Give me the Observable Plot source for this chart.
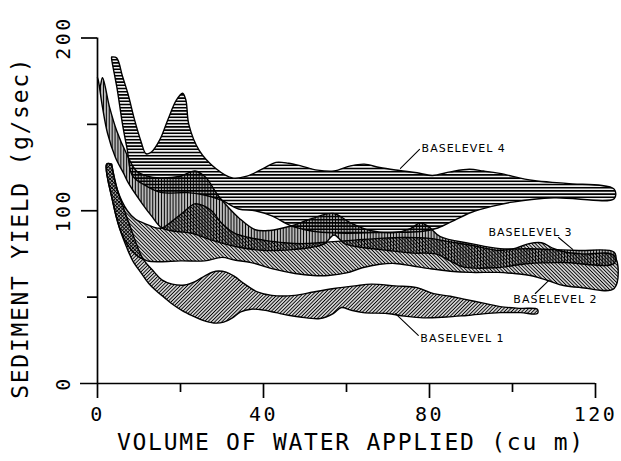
<!DOCTYPE html>
<html><head><meta charset="utf-8">
<script src="https://cdn.jsdelivr.net/npm/d3@7"></script>
<script src="https://cdn.jsdelivr.net/npm/@observablehq/plot@0.6"></script>
<style>html,body{margin:0;padding:0;background:#fff;} svg{display:block}</style>
</head><body><div id="chart"></div>
<script>
// ---- data (x = volume of water applied, cu m ; y = sediment yield, g/sec) ----
const xTitle = "VOLUME OF WATER APPLIED (cu m)";
const yTitle = "SEDIMENT YIELD (g/sec)";
const xTicksMajor = [0, 40, 80, 120];
const xTicksMinor = [20, 60, 100];
const yTicksMajor = [0, 100, 200];
const yTicksMinor = [50, 150];

const bl4Upper = [[3.4,189],[4.6,188.5],[6,178],[7.3,168],[9,152],[10.5,140],[11.7,133],[13,134],[15,141],[17,153],[19,164],[20.5,168],[21.3,164],[22,150],[24.5,135],[28.5,124.5],[32.5,119],[36,120],[40,124.5],[43,128],[46,127.5],[49,126],[53,123.5],[57,123],[61,126],[64.3,127],[68,125],[72.8,123.3],[77,122],[80.7,120.4],[85,122.5],[89.6,124],[93,123],[96.9,121.6],[105,117.5],[113,115.8],[124.5,112.5]];
const bl4Lower = [[3.4,188],[4.8,169.6],[6,150.5],[7.2,135],[8.4,120.4],[12,114],[15.5,110.5],[21.7,110.5],[26,109],[30,106],[34,101],[38,100],[42,97],[46.4,91.5],[50,89],[54,87.5],[60,87],[70,87.5],[78,88],[82,90],[86,94.5],[90,99],[95,102.5],[100,105],[110,107.5],[124.5,107]];

const bl3Upper = [[0,177],[0.6,172],[1.2,177],[2.9,160],[4.6,146.5],[7,133],[9.4,123],[12,120],[15,119],[20,120],[23.5,123],[26,119.5],[29,109],[31.5,102],[34,96],[38,89],[41.5,88.6],[46.4,91],[51.7,95.5],[56.8,98.4],[61,93],[65.7,88.6],[71.7,87.4],[75.4,89.7],[77.8,93],[79.7,91],[82.6,85],[90,81],[97,78],[104,78],[110,77.5],[116,77],[124.5,76]];
const bl3Lower = [[0,177],[0.2,175.4],[1.2,160],[2.4,145],[4.3,131],[6.3,121.6],[7.5,115.8],[10.8,104],[13,97],[15.5,90],[19,88],[22.7,87],[27.5,83],[33.8,79],[40.3,77],[47,77.5],[52,79],[54.8,81],[57,86],[59.5,81],[63,79],[70,77],[76,75.5],[81.4,75],[85,71],[88,67.5],[96,67],[104,69.5],[112,70],[124.5,69.5]];

const bl2Upper = [[3.4,127],[4.8,112],[7.2,100],[9.2,95],[11.4,92.6],[13.5,90.5],[15.5,90],[18,94],[20.3,98.4],[23.4,104],[25.5,103],[27.5,100],[30,92.6],[33,87],[36.5,84.5],[40,83],[45,81.5],[50,81],[56,82],[62,83],[68,84],[74,84.5],[80,84],[85,82],[90,80],[97,77],[101,78.5],[104,81],[107,81.5],[110,78],[113,76],[117,75],[124.5,74]];
const bl2Lower = [[2.2,127],[3.6,106],[5.3,90],[7.3,80],[9.5,74],[12,71],[15,70.5],[20,71],[25.8,71],[30,73],[33,71.5],[37,70],[42,66.5],[47.6,63.7],[52,62.5],[55.6,62.5],[60,64],[63.8,67],[68,69],[71.7,69.5],[76,68],[80,66.5],[85,65],[90,64.3],[96.5,64.3],[101,63.5],[104.3,62.5],[108.5,59.6],[112.3,56.7],[116.4,55.6],[124.5,55]];

const bl1Upper = [[3.4,127],[4.8,112],[6.5,100],[8,90],[9.5,80],[11,72],[13.5,65],[15.5,60],[18,57.5],[21,57],[23.5,59],[26,62.5],[28.5,65],[31,64.5],[33,62],[35.5,57.5],[38.5,53],[42,51],[47.5,51],[52,53],[57,55],[62,56.5],[66,57.5],[71.7,56.5],[77,55.5],[81,52],[85,50.5],[88,49],[93,46.5],[97,44.5],[102,43.5],[106,43]];
const bl1Lower = [[2.2,127],[3.6,106],[5.3,90],[7,79],[8.5,71],[10.5,64],[12.3,58],[14,54],[16,50],[18,46],[20.5,42],[23,39],[25.4,36.5],[28,35],[30.4,35.5],[32.5,38],[34.5,41.5],[37,43],[40,42.5],[43,41],[46,39.5],[48.8,38.5],[53.6,37.6],[56.8,40.5],[58.8,44],[61,42.5],[64,41],[69.8,40.5],[74,39],[78.5,38],[84,38.5],[89,39.4],[97,41],[102,41],[106,40.5]];

const labelNames = ["BASELEVEL 4", "BASELEVEL 3", "BASELEVEL 2", "BASELEVEL 1"];
const labelX = [78.1, 94.2, 100.2, 77.8];
const labelY = [136, 87.4, 48.6, 26];
const leaders = [
  [[73.0,124.5],[77.6,135.5]],
  [[111.1,84.5],[114.5,77.6]],
  [[105.5,52.1],[108.7,59.6]],
  [[77.3,27.8],[71.8,40.5]]
];

// ---- layout ----
const W = 621, H = 461, mL = 97, mR = 5.25, mT = 37.5, mB = 78;
const xDomain = [0, 125], yDomain = [0, 200];
const pxX = (W - mL - mR) / (xDomain[1] - xDomain[0]);
const pxY = (H - mT - mB) / (yDomain[1] - yDomain[0]);

const poly = (up, lo) => [...up, ...lo.slice().reverse(), up[0]];
const bands = [
  {up: bl1Upper, lo: bl1Lower, pat: "p1"},
  {up: bl2Upper, lo: bl2Lower, pat: "p2"},
  {up: bl3Upper, lo: bl3Lower, pat: "p3"},
  {up: bl4Upper, lo: bl4Lower, pat: "p4"}
];
const labels = labelNames.map((t, i) => ({t, x: labelX[i], y: labelY[i]}));

const mono = "DejaVu Sans Mono";
const marks = [];
for (const b of bands) {
  marks.push(Plot.line(poly(b.up, b.lo), {x: d => d[0], y: d => d[1], curve: "catmull-rom",
    fill: `url(#${b.pat})`, stroke: "black", strokeWidth: 1.4}));
}
for (const l of leaders) marks.push(Plot.line(l, {x: d => d[0], y: d => d[1], stroke: "black", strokeWidth: 1.1}));
marks.push(
  Plot.ruleX([0], {y1: -15 / pxY, y2: yDomain[1], stroke: "black", strokeWidth: 1.7}),
  Plot.ruleY([0], {x1: -17 / pxX, x2: 120, stroke: "black", strokeWidth: 1.7}),
  Plot.ruleX(xTicksMajor.filter(d => d > 0), {x: d => d, y1: 0, y2: -15 / pxY, stroke: "black", strokeWidth: 1.7}),
  Plot.ruleX(xTicksMinor, {x: d => d, y1: 0, y2: -9 / pxY, stroke: "black", strokeWidth: 1.7}),
  Plot.ruleY(yTicksMajor.filter(d => d > 0), {y: d => d, x1: 0, x2: -16 / pxX, stroke: "black", strokeWidth: 1.7}),
  Plot.ruleY(yTicksMinor, {y: d => d, x1: 0, x2: -10 / pxX, stroke: "black", strokeWidth: 1.7}),
  Plot.text(labels, {x: "x", y: "y", text: "t", textAnchor: "start", fontSize: 11, fontFamily: "DejaVu Sans", fill: "black"}),
  Plot.text(xTicksMajor, {x: d => d, y: 0, text: d => String(d), dy: 31.5, fontSize: 20, fontFamily: mono, fill: "black"}),
  Plot.text(yTicksMajor, {x: 0, y: d => d, text: d => String(d), rotate: -90, dx: -34, fontSize: 20, fontFamily: mono, fill: "black"}),
  Plot.text([xTitle], {frameAnchor: "bottom", textAnchor: "middle", text: d => d, dy: 66.5, dx: -6, fontSize: 23, fontFamily: mono, fill: "black"}),
  Plot.text([yTitle], {frameAnchor: "left", textAnchor: "middle", text: d => d, rotate: -90, dx: -77, dy: 17, fontSize: 23, fontFamily: mono, fill: "black"})
);

const chart = Plot.plot({
  width: W, height: H,
  marginLeft: mL, marginRight: mR, marginTop: mT, marginBottom: mB,
  x: {domain: xDomain, axis: null},
  y: {domain: yDomain, axis: null},
  style: {background: "white", color: "black", fontFamily: mono},
  marks
});

const svg = d3.select(chart);
svg.insert("defs", ":first-child").html(`
  <pattern id="p4" patternUnits="userSpaceOnUse" width="8" height="3.2">
    <line x1="0" y1="1.6" x2="8" y2="1.6" stroke="black" stroke-width="1.7"/>
  </pattern>
  <pattern id="p3" patternUnits="userSpaceOnUse" width="2.9" height="8">
    <line x1="1.45" y1="0" x2="1.45" y2="8" stroke="black" stroke-width="1.5"/>
  </pattern>
  <pattern id="p2" patternUnits="userSpaceOnUse" width="8" height="2.5" patternTransform="rotate(45)">
    <line x1="0" y1="1.25" x2="8" y2="1.25" stroke="black" stroke-width="1.15"/>
  </pattern>
  <pattern id="p1" patternUnits="userSpaceOnUse" width="8" height="2.5" patternTransform="rotate(-45)">
    <line x1="0" y1="1.25" x2="8" y2="1.25" stroke="black" stroke-width="1.15"/>
  </pattern>`);
// letter spacing for the text groups (labels, x ticks, y ticks, x title, y title)
const textGroups = svg.selectAll('g[aria-label="text"]').nodes();
const spacing = [1, 2.5, 2.5, 1.75, 1.7];
textGroups.forEach((g, i) => d3.select(g).attr("letter-spacing", spacing[i] ?? 0));

document.getElementById("chart").append(chart);
</script></body></html>
